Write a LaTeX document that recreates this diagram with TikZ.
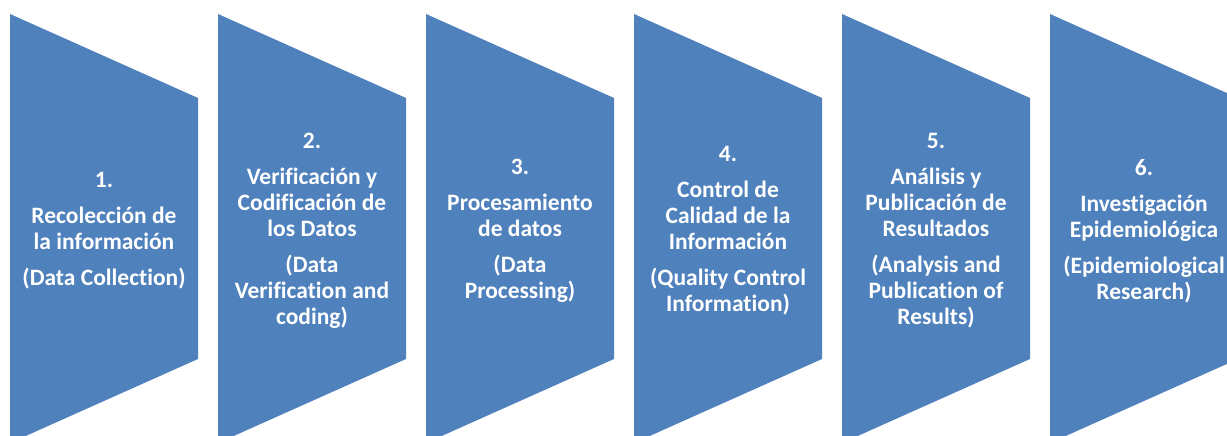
\documentclass[tikz,border=0pt]{standalone}
\usepackage{fontspec}
\newfontfamily\stepfont[Ligatures=CommonOff]{Carlito}
\usepackage{xcolor}
\usepackage{tikz}
\usetikzlibrary{positioning, calc}
\definecolor{stepblue}{HTML}{4F81BD}

\tikzset{
    stepshape/.style={fill=stepblue, draw=none},
    steptext/.style={align=center, text=white, inner sep=0pt,
        font=\stepfont\bfseries\fontsize{23.5}{26}\selectfont}
}

\begin{document}
\begin{tikzpicture}[x=1pt, y=-1pt]
        \useasboundingbox (0,0) rectangle (1227,436);
        \clip (0,0) rectangle (1227,436);

        \foreach \x in {10, 218, 426, 634, 842, 1050} {
            \fill[stepshape] (\x,14) -- ++(188,84) -- ++(0,261) -- ++(-188,84) -- cycle;
        }

        \node[steptext] at (104,231) (st1) {1.\\[10pt]
            Recolección de\\la información\\[10pt]
            (Data Collection)};

        \node[steptext] at (312,231) (st2) {2.\\[10pt]
            Verificación y\\Codificación de\\los Datos\\[10pt]
            (Data\\Verification and\\coding)};

        \node[steptext] at (520,231) (st3) {3.\\[10pt]
            Procesamiento\\de datos\\[10pt]
            (Data\\Processing)};

        \node[steptext] at (728,231) (st4) {4.\\[10pt]
            Control de\\Calidad de la\\Información\\[10pt]
            (Quality Control\\Information)};

        \node[steptext] at (936,231) (st5) {5.\\[10pt]
            Análisis y\\Publicación de\\Resultados\\[10pt]
            (Analysis and\\Publication of\\Results)};

        \node[steptext] at (1144,231) (st6) {6.\\[10pt]
            Investigación\\Epidemiológica\\[10pt]
            (Epidemiological\\Research)};
    \end{tikzpicture}
\end{document}
